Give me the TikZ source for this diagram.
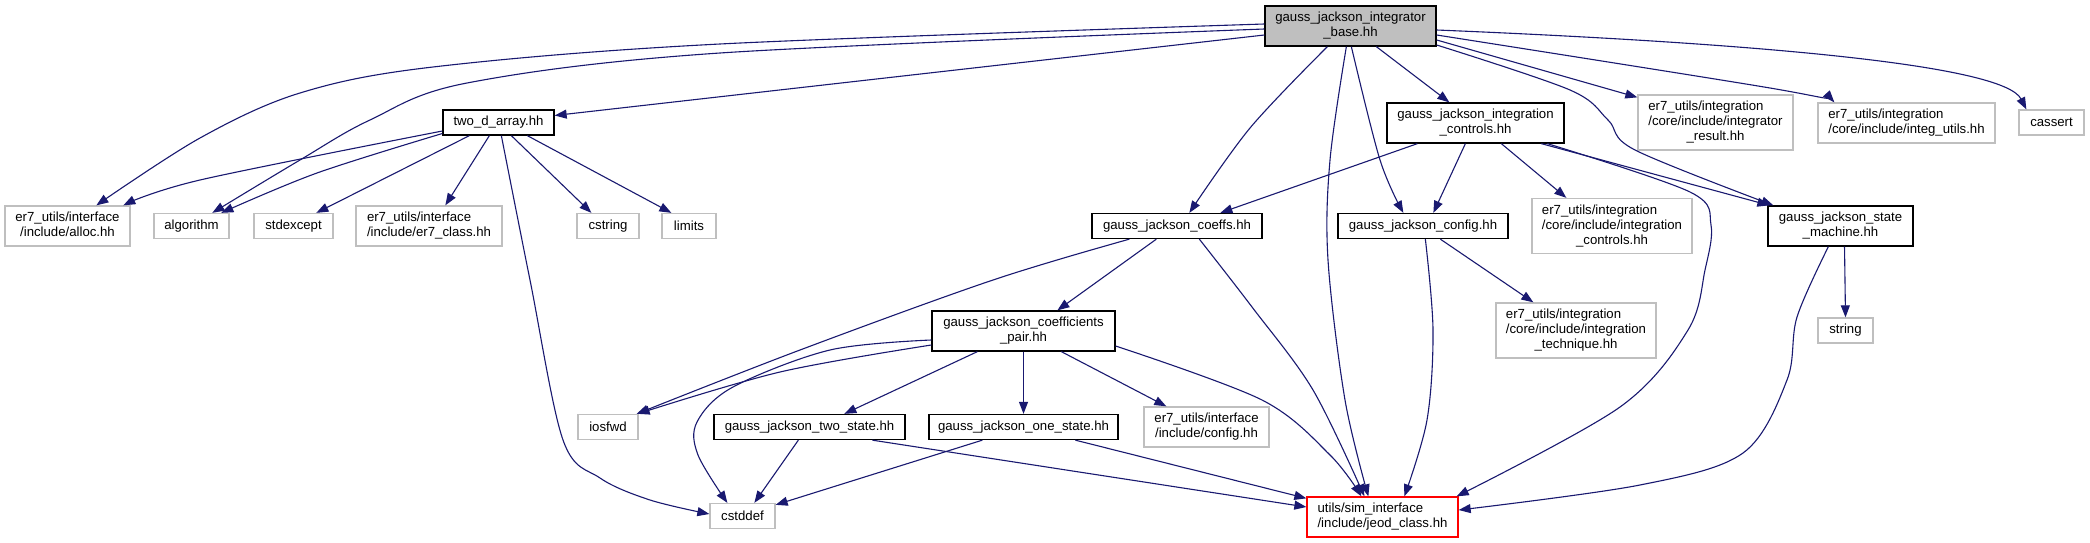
\documentclass[tikz,border=0pt]{standalone}
\usepackage{fontspec}
\setmainfont{Liberation Sans}
\usetikzlibrary{arrows.meta,calc}
\definecolor{edgeblue}{HTML}{191970}
\definecolor{extgray}{HTML}{BFBFBF}
\definecolor{basegray}{HTML}{BFBFBF}
\definecolor{jred}{HTML}{FF0000}
\newcommand{\nlab}[2]{\begin{tabular}{@{}l@{}}#1\\\multicolumn{1}{@{}c@{}}{#2}\end{tabular}}
\begin{document}
\begin{tikzpicture}[x=1pt,y=-1pt,
  box/.style={line width=1.3pt, inner sep=0pt, align=center, text=black,
    font=\fontsize{13.2}{15}\selectfont},
  doc/.style={box, draw=black, fill=white},
  ext/.style={box, draw=extgray, fill=white},
  red/.style={box, draw=jred, fill=white},
  e/.style={draw=edgeblue, line width=1.1pt, -{Triangle[length=12pt,width=9pt]}},
  sm/.style={smooth, tension=0.55}
]
\fill[white] (0,0) rectangle (2090,543);
\useasboundingbox (0,0) rectangle (2090,543);

% nodes
\node[doc, fill=basegray, minimum width=171pt, minimum height=40pt] (base) at (1350.5,26) {\nlab{gauss\_jackson\_integrator}{\_base.hh}};
\node[doc, minimum width=111pt, minimum height=25pt] (tda) at (498.5,122.5) {two\_d\_array.hh};
\node[doc, minimum width=177pt, minimum height=40pt] (gjic) at (1475.5,123) {\nlab{gauss\_jackson\_integration}{\_controls.hh}};
\node[ext, minimum width=155pt, minimum height=55pt] (ir) at (1715.5,122.5) {\nlab{er7\_utils/integration\\/core/include/integrator}{\_result.hh}};
\node[ext, minimum width=177pt, minimum height=40pt] (iu) at (1906.5,123) {\nlab{er7\_utils/integration}{/core/include/integ\_utils.hh}};
\node[ext, minimum width=65pt, minimum height=25pt] (cassert) at (2051.5,122.5) {cassert};

\node[ext, minimum width=125pt, minimum height=40pt] (alloc) at (67.5,226) {\nlab{er7\_utils/interface}{/include/alloc.hh}};
\node[ext, minimum width=75pt, minimum height=25pt] (algorithm) at (191.5,226) {algorithm};
\node[ext, minimum width=79pt, minimum height=25pt] (stdexcept) at (293.5,226) {stdexcept};
\node[ext, minimum width=146pt, minimum height=40pt] (er7class) at (429,226) {\nlab{er7\_utils/interface}{/include/er7\_class.hh}};
\node[ext, minimum width=62pt, minimum height=25pt] (cstring) at (608,226) {cstring};
\node[ext, minimum width=54pt, minimum height=25pt] (limits) at (689,226) {limits};
\node[doc, minimum width=170pt, minimum height=25pt] (coeffs) at (1177,226) {gauss\_jackson\_coeffs.hh};
\node[doc, minimum width=170pt, minimum height=25pt] (config) at (1423,226) {gauss\_jackson\_config.hh};
\node[ext, minimum width=160pt, minimum height=55pt] (eic) at (1612,226) {\nlab{er7\_utils/integration\\/core/include/integration}{\_controls.hh}};
\node[doc, minimum width=145pt, minimum height=40pt] (smach) at (1840.5,226) {\nlab{gauss\_jackson\_state}{\_machine.hh}};

\node[doc, minimum width=183pt, minimum height=40pt] (cp) at (1023.5,331) {\nlab{gauss\_jackson\_coefficients}{\_pair.hh}};
\node[ext, minimum width=160pt, minimum height=55pt] (it) at (1576,330.5) {\nlab{er7\_utils/integration\\/core/include/integration}{\_technique.hh}};
\node[ext, minimum width=55pt, minimum height=25pt] (string) at (1845.5,330.5) {string};

\node[ext, minimum width=60pt, minimum height=25pt] (iosfwd) at (608,427) {iosfwd};
\node[doc, minimum width=191pt, minimum height=25pt] (two) at (809.5,427) {gauss\_jackson\_two\_state.hh};
\node[doc, minimum width=189pt, minimum height=25pt] (one) at (1023.5,427) {gauss\_jackson\_one\_state.hh};
\node[ext, minimum width=125pt, minimum height=40pt] (ecfg) at (1206.5,427) {\nlab{er7\_utils/interface}{/include/config.hh}};

\node[ext, minimum width=65pt, minimum height=25pt] (cstddef) at (742.5,516) {cstddef};
\node[red, minimum width=151pt, minimum height=40pt] (jeod) at (1382.5,517) {\nlab{utils/sim\_interface}{/include/jeod\_class.hh}};

% edges from base
\draw[e] plot[sm] coordinates {($(base.west)+(0,-2)$) (720,44) (433,67) (300,93) (200,138) ($(alloc.north west)+(92,0)$)};
\draw[e] plot[sm] coordinates {($(base.west)+(0,3)$) (720,53) (467,83) (370,120) (300,160) ($(algorithm.north west)+(59,0)$)};
\draw[e] ($(base.west)+(0,9)$) -- ($(tda.east)+(0,-7)$);
\draw[e] plot[sm] coordinates {($(base.south west)+(63,0)$) (1250,128) ($(coeffs.north west)+(98,0)$)};
\draw[e] plot[sm] coordinates {($(base.south west)+(82,0)$) (1330,160) (1328,260) (1345,400) ($(jeod.north west)+(62,0)$)};
\draw[e] plot[sm] coordinates {($(base.south west)+(87,0)$) (1380,160) ($(config.north west)+(66,0)$)};
\draw[e] ($(base.south west)+(112,0)$) -- ($(gjic.north west)+(63,0)$);
\draw[e] ($(base.east)+(0,14)$) -- ($(ir.north west)+(0,3)$);
\draw[e] plot[sm] coordinates {($(base.east)+(0,9)$) (1770,88) ($(iu.north west)+(17,0)$)};
\draw[e] ($(base.east)+(0,4)$) .. controls (1800,45) and (2005,68) .. ($(cassert.north west)+(8,0)$);
\draw[e] plot[sm] coordinates {($(base.east)+(0,19)$) (1570,90) (1608,120) (1635,150) ($(smach.north west)+(6,0)$)};

% edges from two_d_array
\draw[e] plot[sm] coordinates {($(tda.west)+(0,8.5)$) (200,180) ($(alloc.north west)+(119,0)$)};
\draw[e] plot[sm] coordinates {($(tda.west)+(0,11)$) (317,173) ($(algorithm.north west)+(68,0)$)};
\draw[e] ($(tda.south west)+(27,0)$) -- ($(stdexcept.north west)+(63,0)$);
\draw[e] ($(tda.south west)+(47,0)$) -- ($(er7class.north west)+(90,0)$);
\draw[e] plot[sm] coordinates {($(tda.south west)+(59,0)$) (530,280) (563,440) (600,478) (650,500) ($(cstddef.west)+(0,-2)$)};
\draw[e] ($(tda.south west)+(69,0)$) -- ($(cstring.north west)+(15,0)$);
\draw[e] ($(tda.south west)+(85,0)$) -- ($(limits.north west)+(10,0)$);

% edges from gauss_jackson_integration_controls
\draw[e] ($(gjic.south west)+(31,0)$) -- ($(coeffs.north west)+(129,0)$);
\draw[e] ($(gjic.south west)+(79,0)$) -- ($(config.north west)+(96,0)$);
\draw[e] ($(gjic.south west)+(115,0)$) -- ($(eic.north west)+(35,0)$);
\draw[e] ($(gjic.south west)+(155,0)$) -- ($(smach.north west)+(2,0)$);
\draw[e] plot[sm] coordinates {($(gjic.south west)+(161,0)$) (1690,192) (1711,225) (1705,270) (1688,330) (1620,407) ($(jeod.north east)+(-2,0)$)};

% edges from state machine
\draw[e] ($(smach.south)+(4,0)$) -- ($(string.north)+(0,0)$);
\draw[e] plot[sm] coordinates {($(smach.south west)+(61,0)$) (1797,317) (1787,380) (1743,453) (1640,485) ($(jeod.east)+(0,-7)$)};

% edges from config
\draw[e] plot[sm] coordinates {($(config.south west)+(88,0)$) (1433,330) (1427,420) ($(jeod.north west)+(98,0)$)};
\draw[e] ($(config.south west)+(103,0)$) -- ($(it.north west)+(38,0)$);

% edges from coeffs
\draw[e] ($(coeffs.south west)+(65,0)$) -- ($(cp.north west)+(126,0)$);
\draw[e] plot[sm] coordinates {($(coeffs.south west)+(38,0)$) (993,280) (800,350) ($(iosfwd.north east)+(-2,0)$)};
\draw[e] plot[sm] coordinates {($(coeffs.south west)+(108,0)$) (1252,307) (1313,390) ($(jeod.north west)+(58,0)$)};

% edges from coefficients pair
\draw[e] plot[sm] coordinates {($(cp.west)+(0,14)$) (780,372) ($(iosfwd.north east)+(-1,0)$)};
\draw[e] plot[sm] coordinates {($(cp.west)+(0,9)$) (830,350) (733,387) (697,422) (698,455) ($(cstddef.north west)+(18,0)$)};
\draw[e] ($(cp.south west)+(46,0)$) -- ($(two.north west)+(131,0)$);
\draw[e] (cp.south) -- (one.north);
\draw[e] ($(cp.south west)+(130,0)$) -- ($(ecfg.north west)+(23,0)$);
\draw[e] plot[sm] coordinates {($(cp.east)+(0,15)$) (1262,400) (1330,455) ($(jeod.north west)+(55,0)$)};

% edges from two_state / one_state
\draw[e] ($(two.south west)+(85,0)$) -- ($(cstddef.north west)+(45,0)$);
\draw[e] ($(two.south west)+(159,0)$) -- ($(jeod.west)+(0,-10)$);
\draw[e] ($(one.south west)+(54,0)$) -- ($(cstddef.north east)+(0,2)$);
\draw[e] ($(one.south west)+(147,0)$) -- ($(jeod.north west)+(0,2)$);
\end{tikzpicture}
\end{document}
